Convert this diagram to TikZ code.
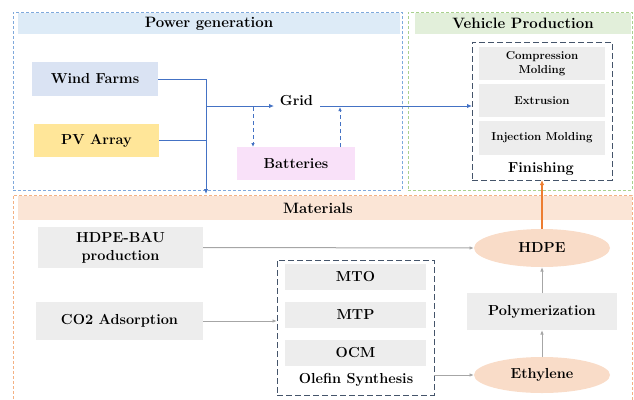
\documentclass[tikz,border=0pt]{standalone}
\usetikzlibrary{shapes.geometric,arrows.meta}
\definecolor{blueB}{HTML}{7FA9DC}
\definecolor{blueH}{HTML}{DDEBF7}
\definecolor{windF}{HTML}{DAE3F3}
\definecolor{pvF}{HTML}{FFE699}
\definecolor{battF}{HTML}{F9E1F9}
\definecolor{greenB}{HTML}{A9D18E}
\definecolor{greenH}{HTML}{E2EFDA}
\definecolor{orangeB}{HTML}{F4B183}
\definecolor{orangeH}{HTML}{FBE5D6}
\definecolor{grayF}{HTML}{EDEDED}
\definecolor{arrowBlue}{HTML}{4472C4}
\definecolor{arrowGray}{HTML}{A6A6A6}
\definecolor{arrowOrange}{HTML}{ED7D31}
\definecolor{darkB}{HTML}{44546A}
\definecolor{ellF}{HTML}{F9DCC8}
\begin{document}
\begin{tikzpicture}[x=1pt,y=-1pt,
  every node/.style={inner sep=0pt, outer sep=0pt},
  bigtxt/.style={font=\bfseries\fontsize{14.5}{18}\selectfont},
  midtxt/.style={font=\bfseries\fontsize{14.5}{17}\selectfont},
  smalltxt/.style={font=\bfseries\fontsize{11.5}{13.5}\selectfont, align=center},
  groupbox/.style={draw, dashed, line width=0.8pt, dash pattern=on 3pt off 2pt},
  innerbox/.style={draw=darkB, line width=0.9pt, dash pattern=on 6pt off 3pt},
  hdr/.style={font=\bfseries\fontsize{15}{18}\selectfont},
  gbox/.style={fill=grayF},
  ellnode/.style={ellipse, fill=ellF, minimum width=136pt, minimum height=38pt, bigtxt},
  blueArrow/.style={draw=arrowBlue, line width=1pt, -{Latex[length=5pt,width=4.5pt]}},
  blueDash/.style={draw=arrowBlue, line width=0.9pt, dash pattern=on 4pt off 3pt, -{Latex[length=4pt,width=3.5pt]}},
  blueLine/.style={draw=arrowBlue, line width=1pt},
  grayArrow/.style={draw=arrowGray, line width=1pt, -{Latex[length=4.5pt,width=3.5pt]}},
]
\useasboundingbox (0,0) rectangle (634,399);

% group boxes
\node[groupbox, draw=blueB, minimum width=389pt, minimum height=178pt] (powerbox) at (207.5,101) {};
\node[groupbox, draw=greenB, minimum width=224pt, minimum height=178pt] (vehbox) at (520,101) {};
\node[groupbox, draw=orangeB, minimum width=619pt, minimum height=206pt] (matbox) at (322.5,298) {};

% headers
\node[hdr, fill=blueH, minimum width=382pt, minimum height=21pt] (powerhdr) at (209,23.5) {Power generation};
\node[hdr, fill=greenH, minimum width=216pt, minimum height=21pt] (vehhdr) at (523,23.5) {Vehicle Production};
\node[hdr, fill=orangeH, minimum width=614pt, minimum height=24pt] (mathdr) at (325,208) {\hspace{-14pt}Materials};

% power generation
\node[bigtxt, fill=windF, minimum width=126pt, minimum height=34pt] (wind) at (95,79) {Wind Farms};
\node[bigtxt, fill=pvF, minimum width=125pt, minimum height=33pt] (pv) at (96.5,140.5) {PV Array};
\node[bigtxt, fill=battF, minimum width=118pt, minimum height=33pt] (batt) at (296,163.5) {Batteries};
\node[bigtxt] (grid) at (296.5,101) {Grid};

\coordinate (jtop) at (206,79);
\coordinate (jmid) at (206,106);
\coordinate (jbot) at (206,194);
\coordinate (gin) at (274,106);
\coordinate (gout) at (320,106);
\coordinate (bdown) at (253,107);
\coordinate (bup) at (340,107);

\draw[blueLine] (wind.east |- jtop) -- (jtop);
\draw[blueLine] (pv.east) -- (pv.east -| jtop);
\draw[blueArrow] (jtop) -- (jbot);
\draw[blueArrow] (jmid) -- (gin);
\draw[blueDash] (bdown) -- (bdown |- batt.north);
\draw[blueDash] (batt.north -| bup) -- (bup);

% vehicle production
\node[innerbox, minimum width=140pt, minimum height=138pt] (fin) at (542,111) {};
\node[smalltxt, gbox, minimum width=126pt, minimum height=33pt] (comp) at (542,63.5) {Compression\\Molding};
\node[smalltxt, gbox, minimum width=126pt, minimum height=33pt] (extr) at (542,100.5) {Extrusion};
\node[smalltxt, gbox, minimum width=126pt, minimum height=34pt] (inj) at (542,138) {Injection Molding};
\node[midtxt] (finlbl) at (541,169) {Finishing};

\draw[blueArrow] (gout) -- (gout -| fin.west);

% materials
\node[bigtxt, gbox, align=center, minimum width=165pt, minimum height=41pt] (bau) at (120.5,247.5) {HDPE-BAU\\production};
\node[bigtxt, gbox, minimum width=167pt, minimum height=38pt] (co2) at (119.5,321) {CO2 Adsorption};

\node[innerbox, minimum width=157pt, minimum height=135pt] (olef) at (355.5,327.5) {};
\node[bigtxt, gbox, minimum width=141pt, minimum height=26pt] (mto) at (355.5,277) {MTO};
\node[bigtxt, gbox, minimum width=141pt, minimum height=26pt] (mtp) at (355.5,315) {MTP};
\node[bigtxt, gbox, minimum width=141pt, minimum height=26pt] (ocm) at (355.5,353) {OCM};
\node[midtxt] (oleflbl) at (356,380) {Olefin Synthesis};

\node[ellnode] (hdpe) at (542,248) {HDPE};
\node[ellnode, minimum height=36pt] (eth) at (542,375) {Ethylene};
\node[bigtxt, gbox, minimum width=150pt, minimum height=37pt] (poly) at (542,311.5) {Polymerization};

\draw[grayArrow] (bau.east) -- (hdpe.west);
\draw[grayArrow] (co2.east) -- (co2.east -| olef.west);
\draw[grayArrow] (olef.east |- eth.west) -- (eth.west);
\draw[grayArrow] (eth.north) -- (poly.south);
\draw[grayArrow] (poly.north) -- (hdpe.south);
\draw[draw=arrowOrange, line width=1.3pt, -{Latex[length=5pt,width=4.5pt]}] (hdpe.north) -- (fin.south);
\end{tikzpicture}
\end{document}
